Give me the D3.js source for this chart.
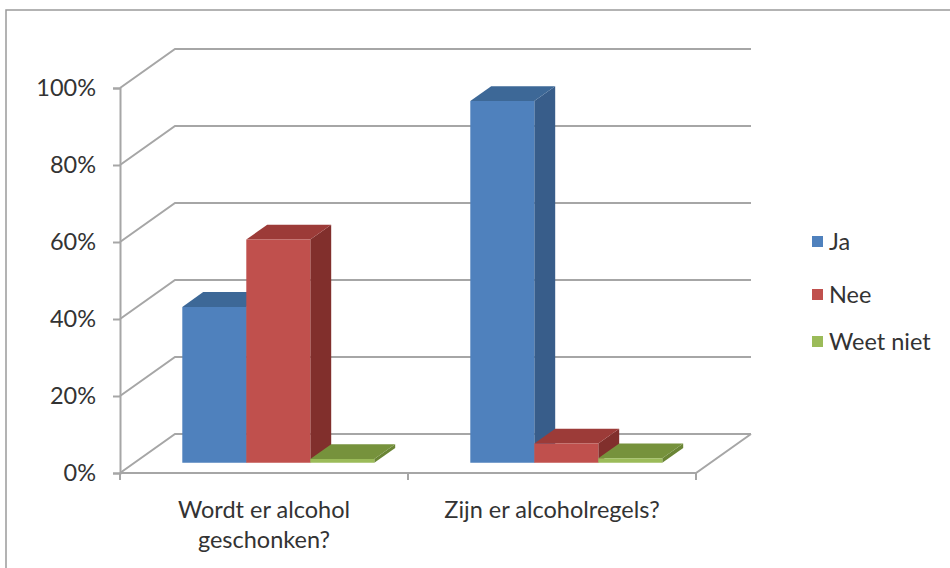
<!DOCTYPE html>
<html>
<head>
<meta charset="utf-8">
<script src="https://cdn.jsdelivr.net/npm/d3@7"></script>
<style>
  body { margin: 0; background: #fff; }
  text { font-family: Lato, "Open Sans", sans-serif; fill: #333; }
</style>
</head>
<body>
<svg id="chart" width="950" height="568"></svg>
<script>
    // Chart data
    const categories = [["Wordt er alcohol", "geschonken?"], ["Zijn er alcoholregels?"]];
    const seriesNames = ["Ja", "Nee", "Weet niet"];
    const ja = [0.405, 0.94];
    const nee = [0.58, 0.05];
    const weetNiet = [0.01, 0.012];
    const yTicks = [0, 0.2, 0.4, 0.6, 0.8, 1];

    const values = [ja, nee, weetNiet];

    // Colors per series: front, top, side
    const colors = [
        { front: "#4f81bd", top: "#3d6897", side: "#385d8a" },
        { front: "#c0504d", top: "#9c3b38", side: "#812f2c" },
        { front: "#9bbb59", top: "#76923c", side: "#6a8535" }
    ];

    const fontSize = 23.5;
    const svg = d3.select("#chart");

    // Front plane scales
    const x = d3.scaleBand().domain(d3.range(categories.length)).range([120, 696]);
    const y = d3.scaleLinear().domain([0, 1]).range([473, 88]);

    // Depth projection (3D look)
    const depthX = 55, depthY = -39;
    const proj = (px, py, f) => [px + depthX * f, py + depthY * f];

    // outer frame
    svg.append("path")
        .attr("d", "M6,568V10H950")
        .attr("fill", "none")
        .attr("stroke", "#9a9a9a")
        .attr("stroke-width", 1.5);

    const grid = svg.append("g")
        .attr("fill", "none")
        .attr("stroke", "#a6a6a6")
        .attr("stroke-width", 2);

    // back wall gridlines + left wall diagonals
    yTicks.forEach(t => {
        const a = proj(120, y(t), 1);
        const b = proj(696, y(t), 1);
        grid.append("path").attr("d", `M120,${y(t)}L${a[0]},${a[1]}H${b[0]}`);
    });

    // floor front edge and right edge
    const fr = proj(696, y(0), 1);
    grid.append("path").attr("d", `M120,${y(0)}H696L${fr[0]},${fr[1]}`);

    // category ticks
    d3.range(categories.length + 1).forEach(i => {
        const px = i < categories.length ? x(i) : x.range()[1];
        grid.append("path").attr("d", `M${px},${y(0)}V${y(0) + 7}`);
    });

    // y axis
    const yAxis = svg.append("g")
        .attr("transform", "translate(120,0)")
        .call(d3.axisLeft(y).tickValues(yTicks).tickSize(7).tickPadding(17).tickFormat(d3.format(".0%")));
    yAxis.selectAll("path, line").attr("stroke", "#a6a6a6").attr("stroke-width", 2);
    yAxis.selectAll("text")
        .style("font-family", "Lato, sans-serif")
        .attr("font-size", fontSize)
        .attr("fill", "#333");

    // bars
    const f0 = 0.26, f1 = 0.64;
    const inner = d3.scaleBand().domain(d3.range(seriesNames.length))
        .range([0, x.bandwidth()]).paddingInner(0).paddingOuter(0.75);

    const bars = svg.append("g");
    categories.forEach((c, ci) => {
        seriesNames.forEach((s, si) => {
            const v = values[si][ci];
            const xl = x(ci) + inner(si);
            const xr = xl + inner.bandwidth();
            const yb = y(0), yt = y(v);
            const p = (px, py, f) => proj(px, py, f).join(",");
            const col = colors[si];
            // side
            bars.append("path")
                .attr("d", `M${p(xr, yb, f0)}L${p(xr, yb, f1)}L${p(xr, yt, f1)}L${p(xr, yt, f0)}Z`)
                .attr("fill", col.side);
            // top
            bars.append("path")
                .attr("d", `M${p(xl, yt, f0)}L${p(xr, yt, f0)}L${p(xr, yt, f1)}L${p(xl, yt, f1)}Z`)
                .attr("fill", col.top);
            // front
            bars.append("path")
                .attr("d", `M${p(xl, yb, f0)}L${p(xr, yb, f0)}L${p(xr, yt, f0)}L${p(xl, yt, f0)}Z`)
                .attr("fill", col.front);
        });
    });

    // category labels
    categories.forEach((lines, ci) => {
        const t = svg.append("text")
            .attr("x", x(ci) + x.bandwidth() / 2)
            .attr("y", 518)
            .attr("text-anchor", "middle")
            .attr("font-size", fontSize);
        lines.forEach((l, li) => {
            t.append("tspan")
                .attr("x", x(ci) + x.bandwidth() / 2)
                .attr("dy", li === 0 ? 0 : 30)
                .text(l);
        });
    });

    // legend
    const legendY = [242, 295, 342];
    const legend = svg.append("g");
    seriesNames.forEach((s, i) => {
        legend.append("rect")
            .attr("x", 812).attr("y", legendY[i] - 6)
            .attr("width", 11).attr("height", 11)
            .attr("fill", colors[i].front);
        legend.append("text")
            .attr("x", 829).attr("y", legendY[i])
            .attr("dy", "0.35em")
            .attr("font-size", fontSize)
            .text(s);
    });
</script>
</body>
</html>
